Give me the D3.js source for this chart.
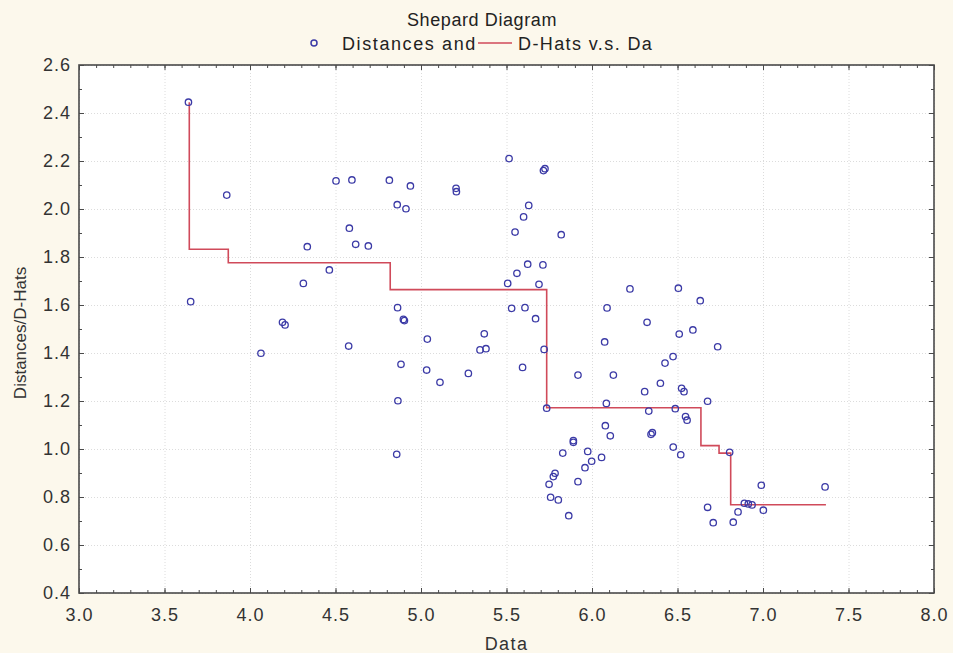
<!DOCTYPE html>
<html>
<head>
<meta charset="utf-8">
<script src="https://cdn.jsdelivr.net/npm/d3@7"></script>
<style>
  body { margin: 0; background: #fcf8ec; }
  svg { display: block; }
  .tick text { font-family: "Liberation Sans", Arial, sans-serif; }
</style>
</head>
<body>
<div id="viz"></div>
<script>
const width = 953;
const height = 653;
const margin = {top: 65, right: 19, bottom: 60, left: 79};

// scatter: Data vs Distances
const dataX = [3.64, 3.864, 3.653, 4.335, 4.312, 4.464, 4.503, 4.596, 4.581, 4.618, 4.692, 4.19, 4.205, 4.064, 4.577,
  5.515, 5.716, 5.725, 4.815, 4.938, 5.205, 5.207, 4.861, 4.912, 5.63, 5.6, 5.55, 5.82, 5.624, 5.713,
  5.561, 5.507, 5.69, 4.863, 4.897, 4.903, 5.53, 5.608, 5.67, 5.037, 5.37, 5.345, 5.38, 5.72, 4.883,
  5.033, 5.111, 5.277, 5.594, 5.918, 4.865, 5.735, 4.858, 6.222, 6.505, 6.633, 6.088, 6.322, 6.51, 6.59,
  6.735, 6.074, 6.474, 6.427, 6.125, 6.4, 6.308, 6.524, 6.538, 6.676, 6.084, 6.332, 6.487, 6.547, 6.556,
  6.078, 6.107, 6.345, 6.353, 5.891, 5.891, 5.975, 5.829, 6.475, 6.519, 6.056, 5.998, 5.959, 5.784, 5.774,
  5.749, 5.918, 5.758, 5.803, 5.864, 6.805, 6.99, 7.363, 6.891, 6.914, 6.936, 6.676, 6.854, 7.002, 6.709, 6.826];
const distances = [2.445, 2.058, 1.614, 1.843, 1.69, 1.746, 2.117, 2.121, 1.92, 1.853, 1.846, 1.528, 1.517, 1.399, 1.429,
  2.21, 2.16, 2.168, 2.12, 2.096, 2.086, 2.072, 2.018, 2.001, 2.015, 1.967, 1.904, 1.893, 1.77, 1.767,
  1.732, 1.69, 1.686, 1.589, 1.54, 1.535, 1.586, 1.589, 1.543, 1.458, 1.48, 1.413, 1.418, 1.415, 1.353,
  1.329, 1.278, 1.315, 1.34, 1.308, 1.201, 1.17, 0.978, 1.667, 1.67, 1.618, 1.588, 1.528, 1.479, 1.496,
  1.426, 1.446, 1.385, 1.358, 1.308, 1.274, 1.239, 1.253, 1.239, 1.199, 1.19, 1.158, 1.168, 1.135, 1.12,
  1.097, 1.055, 1.061, 1.068, 1.035, 1.028, 0.99, 0.983, 1.008, 0.976, 0.965, 0.949, 0.922, 0.899, 0.885,
  0.853, 0.864, 0.799, 0.788, 0.722, 0.986, 0.849, 0.842, 0.774, 0.771, 0.767, 0.757, 0.738, 0.745, 0.693, 0.695];

// D-hats step function (start of each step)
const stepX = [3.645, 3.645, 3.873, 4.82, 5.735, 6.637, 6.743, 6.811, 7.368];
const stepY = [2.445, 1.832, 1.776, 1.664, 1.172, 1.014, 0.983, 0.768, 0.768];

const xTicks = [3.0, 3.5, 4.0, 4.5, 5.0, 5.5, 6.0, 6.5, 7.0, 7.5, 8.0];
const yTicks = [0.4, 0.6, 0.8, 1.0, 1.2, 1.4, 1.6, 1.8, 2.0, 2.2, 2.4, 2.6];

const title = 'Shepard Diagram';
const legendLabels = ['Distances and', 'D-Hats v.s. Da'];
const xLabel = 'Data';
const yLabel = 'Distances/D-Hats';

const dotColor = '#3b3aa6';
const lineColor = '#d04a5a';
const axisColor = '#4a4a4a';

const svg = d3.select('#viz')
  .append('svg')
    .attr('width', width)
    .attr('height', height)

const x = d3.scaleLinear()
  .domain([3, 8])
  .range([margin.left, width - margin.right])

const y = d3.scaleLinear()
  .domain([0.4, 2.6])
  .range([height - margin.bottom, margin.top])

const plotW = width - margin.left - margin.right;
const plotH = height - margin.top - margin.bottom;

svg.append('rect')
  .attr('x', margin.left)
  .attr('y', margin.top)
  .attr('width', plotW)
  .attr('height', plotH)
  .attr('fill', '#fff')

// grid
const xGrid = svg.append('g')
  .attr('transform', `translate(0, ${height - margin.bottom})`)
  .call(d3.axisBottom(x).tickValues(xTicks).tickSize(-plotH).tickFormat(''))
const yGrid = svg.append('g')
  .attr('transform', `translate(${margin.left}, 0)`)
  .call(d3.axisLeft(y).tickValues(yTicks).tickSize(-plotW).tickFormat(''))
svg.selectAll('.domain').remove()
;[xGrid, yGrid].forEach(g => g.selectAll('line')
  .attr('stroke', '#dcdcdc')
  .attr('stroke-dasharray', '1,2'))

// minor + major ticks, pointing inward on all four sides
const xMinor = d3.range(30, 81).map(d => d / 10);
const yMinor = d3.range(4, 27).map(d => d / 10);

function tickSide(axis, transform, values, size) {
  const g = svg.append('g')
    .attr('transform', transform)
    .call(axis.tickValues(values).tickSize(-size).tickFormat(''))
  g.select('.domain').remove()
  g.selectAll('line').attr('stroke', axisColor)
  return g
}
const atBottom = `translate(0, ${height - margin.bottom})`;
const atTop = `translate(0, ${margin.top})`;
const atLeft = `translate(${margin.left}, 0)`;
const atRight = `translate(${width - margin.right}, 0)`;
tickSide(d3.axisBottom(x), atBottom, xMinor, 3)
tickSide(d3.axisTop(x), atTop, xMinor, 3)
tickSide(d3.axisLeft(y), atLeft, yMinor, 3)
tickSide(d3.axisRight(y), atRight, yMinor, 3)
tickSide(d3.axisBottom(x), atBottom, xTicks, 5)
tickSide(d3.axisTop(x), atTop, xTicks, 5)
tickSide(d3.axisLeft(y), atLeft, yTicks, 5)
tickSide(d3.axisRight(y), atRight, yTicks, 5)

// tick labels
const xAxis = svg.append('g')
  .attr('transform', atBottom)
  .call(d3.axisBottom(x).tickValues(xTicks).tickSize(0).tickPadding(15).tickFormat(d3.format('.1f')))
const yAxis = svg.append('g')
  .attr('transform', atLeft)
  .call(d3.axisLeft(y).tickValues(yTicks).tickSize(0).tickPadding(8).tickFormat(d3.format('.1f')))
;[xAxis, yAxis].forEach(g => {
  g.select('.domain').remove()
  g.selectAll('text')
    .attr('fill', '#333')
    .style('font-size', '18px')
    .style('letter-spacing', '1px')
})

// frame
svg.append('rect')
  .attr('x', margin.left)
  .attr('y', margin.top)
  .attr('width', plotW)
  .attr('height', plotH)
  .attr('fill', 'none')
  .attr('stroke', axisColor)
  .attr('stroke-width', 1.6)

// D-hats step line
const step = d3.line()
  .x(d => x(d[0]))
  .y(d => y(d[1]))
  .curve(d3.curveStepAfter)

svg.append('path')
  .attr('d', step(d3.zip(stepX, stepY)))
  .attr('fill', 'none')
  .attr('stroke', lineColor)
  .attr('stroke-width', 1.6)

// distances
svg.append('g')
  .selectAll('circle')
  .data(d3.zip(dataX, distances))
  .join('circle')
    .attr('cx', d => x(d[0]))
    .attr('cy', d => y(d[1]))
    .attr('r', 3.2)
    .attr('fill', 'none')
    .attr('stroke', dotColor)
    .attr('stroke-width', 1.3)

// titles
const font = '"Liberation Sans", Arial, sans-serif';
svg.append('text')
  .attr('x', 482)
  .attr('y', 26)
  .attr('text-anchor', 'middle')
  .style('font-family', font)
  .style('font-size', '18px')
  .style('letter-spacing', '0.6px')
  .attr('fill', '#222')
  .text(title)

const legend = svg.append('g').style('font-family', font).style('font-size', '18px')
legend.append('circle')
  .attr('cx', 314).attr('cy', 43).attr('r', 3)
  .attr('fill', 'none').attr('stroke', dotColor).attr('stroke-width', 1.5)
legend.append('text')
  .attr('x', 342).attr('y', 50)
  .attr('fill', '#222')
  .style('letter-spacing', '1.6px')
  .text(legendLabels[0])
legend.append('line')
  .attr('x1', 478).attr('x2', 512).attr('y1', 43).attr('y2', 43)
  .attr('stroke', lineColor).attr('stroke-width', 1.6)
legend.append('text')
  .attr('x', 518).attr('y', 50)
  .attr('fill', '#222')
  .style('letter-spacing', '1.4px')
  .text(legendLabels[1])

svg.append('text')
  .attr('x', (margin.left + width - margin.right) / 2)
  .attr('y', 650)
  .attr('text-anchor', 'middle')
  .style('font-family', font)
  .style('font-size', '18px')
  .style('letter-spacing', '1.4px')
  .attr('fill', '#333')
  .text(xLabel)

svg.append('text')
  .attr('transform', `translate(26, 333) rotate(-90)`)
  .attr('text-anchor', 'middle')
  .style('font-family', font)
  .style('font-size', '17px')
  .attr('fill', '#333')
  .text(yLabel)
</script>
</body>
</html>
